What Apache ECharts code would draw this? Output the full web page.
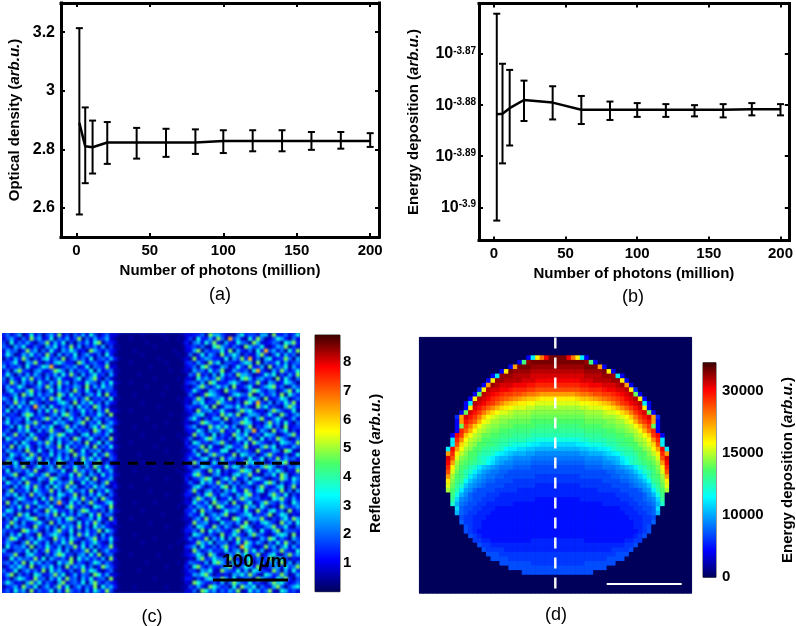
<!DOCTYPE html>
<html><head><meta charset="utf-8">
<style>html,body{margin:0;padding:0;background:#fff}
#c{position:absolute;left:0;top:0;width:796px;height:627px;filter:blur(0.6px);z-index:2}
#wrapC{position:absolute;left:2px;top:333px;width:298px;height:260px;overflow:hidden;background:#0040c8;z-index:1}
#h{width:298px;height:260px;filter:blur(1px)}</style>
<script src="https://cdn.jsdelivr.net/npm/echarts@6/dist/echarts.min.js"></script>
</head><body><div id="wrapC"><div id="h"></div></div><div id="c"></div>
<script>
// --- panel (a) / (b)
const photons=[2,6,11,21,41,61,81,100,120,140,160,180,200];
const xTicks=[0,50,100,150,200];
const odMean=[2.89,2.81,2.807,2.823,2.823,2.823,2.823,2.828,2.828,2.828,2.828,2.828,2.828];
const odHigh=[3.214,2.943,2.898,2.893,2.873,2.87,2.868,2.865,2.865,2.865,2.859,2.859,2.855];
const odLow=[2.577,2.684,2.717,2.75,2.768,2.774,2.784,2.787,2.793,2.793,2.798,2.802,2.808];
const odTicks=[2.6,2.8,3,3.2];
const edMean=[-3.8818,-3.8817,-3.8806,-3.879,-3.8795,-3.8809,-3.8809,-3.8809,-3.8809,-3.8809,-3.8809,-3.8808,-3.8808];
const edHigh=[-3.8621,-3.8719,-3.8731,-3.8752,-3.8763,-3.8782,-3.8793,-3.8796,-3.8798,-3.88,-3.8798,-3.8796,-3.8798];
const edLow=[-3.9026,-3.8914,-3.8879,-3.8831,-3.8828,-3.8837,-3.8829,-3.8823,-3.8823,-3.8822,-3.8824,-3.882,-3.882];
const edTicks=[-3.9,-3.89,-3.88,-3.87];
// --- panel (c): speckle typed by eye (grain is an estimate, not pixel exact); digit = index in reflectanceLevels
const reflectanceLevels=[0.3,0.5,0.9,1.3,1.7,2.1,2.7,3.6,4.8,6.2];
const reflectanceTicks=[1,2,3,4,5,6,7,8];
const cLeft=["3524613725146382415362741352","2463152846237153624815263462","4172536314582637141536278143","5316472253164725382614352614","2645138461527316475231864253","3751264735284162537146325173","1426385142673528146352714536","4357216583142675331862453261","6243517324769213546237154382","2516843156324875162543716245","3741526264153627384162573416","5163274835261473225714683152","4285163517426384615327541637","2634751246385172436518263745","1573426835147263518427316254","3246185726354186273514637182","6417352143628571346258143527","2538461753142367518264735163","4162735294617325461735286241","3715246316273846152473516382","5243168725314627853162437518","1634527143685261473528164253","4725316584132756314682537146","2361748253647125836241573864","3512647316258431672534186257","6248351742316587243167254361","1753426583147263518624731528","3426175236485172463518247163","5281647315264381725346182537","2643518427316254681372546143","4175362851437262518463172584","3562147638251473625184736215","1847253416372586143275368142","5326481257346182537416285374","2714536382146537128463517246","3468125743682154372851642735","6125374216538741263547182346","2753618435127364581273641582","4316257384261753846125374621","1582436175348261573462815374","3647152836415276348152637415","5214763251738462157384261853","2836145473261594273615842367","4153728316547231684253176428","3762514263185734261587342516","6341857125463817352641738254","1527346782153462785134627318","3485162357418263541726385142","2716453184362517463825174632","5342187463152684371526348175","4163725318246753162847351624","2587314627531846275314682537","3642158374261537482163574216","1735462815374261548372615348","6214537162483572614358271463","3458216743152687341562738145","2173645382716435281746352618","4526381746253174682531476253","1364752813647251836472513864","5237146352817463251384762135","3681524176235847136254187362","2415763284516372845163724518","4752316847253168245371684253","1346285371462583714625381746","3527461825347162853416275384"];
const cBand=["2100000100001000012","1000100000000100102","2000000010000000013","1100000000100000002","2000010000000001002","1000000100000000101","3100000000010000012","1000100000000100003","2000000001000000002","1100000000000010012","2000001000000000001","1000000000100000102","2100100000000000003","1000000010000100012","2000000000000000002","3000010000001000001","1100000000000000102","2000000100000000012","1000000000010000003","2100100000000000002","1000000000000010011","2000000010000000002","3100000000000100012","1000010000100000003","2000000000000000002","1100000100000000101","2000000000001000012","1000100000000000003","2100000000100000002","1000000000000100011","2000001000000000002","3000000000000000012","1100000100000010003","2000000000100000002","1000010000000000101","2100000000000000012","1000000010000100003","2000000000000000002","3100100000000000011","1000000001000000002","2000000000000100013","1100000000000000002","2000010000100000012","1000000000000000101","2100000100000000003","1000000000001000002","2000100000000000012","3000000001000000001","1100000000000100002","2000000000000000013","1000010000000000002","2100000000100000012","1000000100000000101","2000000000000010003","3100000000000000002","1000100000010000012","2000000000000000001","1100000010000000102","2000000000000100003","1000001000000000012","2100000000000000002","1000000000100000013","2000000000000000002","3100010000000100011","1000000000000000002"];
const cRight=["2335186642115734426618335247","4173362851946217385124763152","1562748316327541862235417683","3425117864253186447213658142","2681534472816325173946251738","5137264183575142268314726351","1824653327164839251672348516","4263185714432576181534726245","3517842265137428336182547163","1645273581264351794216385247","5382416173528664123757142638","2174635852341786256341827415","4526187233675214483165237641","1368524746182357214678351264","3742165318453126874255136827","5213876421367548126346281753","2486135572814236751823476135","1657243864325187394261537482","4325718126647352185734216863","3184562473215867423158642371","2567134285748136652473185246","5731426618253474168325741362","1248753362145876231584627315","4613285747361258143672518234","3275164582437165926418357142","2846317153286471352765124683","5124786342517638417253864125","1763425684135272864314276538","4358172216743581326857143264","2615843377126453184236518721","3471268542381764513684225137","5236714183652417247153836452","1854327465213386745126478213","4127653328476152436875132546","2563184714235876182364751328","3784215623167458321547286134","1346872157482361675213486275","5217463842635147423786152364","2674135378162543158423671482","4831562416473285267145382516","3152784265316478341268537142","1586247133725864452317684263","2743618546182357136854263175","4265371872346185627413185346","3618452137564273184267351824","5327146468213567243581476132","1462835723187426658314257386","2845613174536281426753184627","4176328526413875132568347215","3528174643268157417326815443","1764253182475316854213676182","5243816371628453126487253164","2386471545137286364152738415","4617325268341975213846157263","1852463437256184736125484327","3475186212648573481367215846","2168347554823167253481764132","5432617863175248146257383615","1784253346821576382145627458","4316572185437261764328516273","2657841323165748521763485126","3142675486271354186432758314","1875324261586437342158674235","4263187534172865715326841467","2518746253648127463582176342"];
// --- panel (d): half rows, centre to rim. a..z are even steps of the colour bar (a=0, z=1), A..Y the midpoints after the same lowercase letter.
// The picture is near-symmetric, so each half row is mirrored.
const depositionTicks=[0,10000,15000,30000];
const dHalfRows=["yywtqjd","yyyyyyXmd","XXXXXXyyysd","xxxxxxXXXXyqd","WWWWWWxxxxXXXjd","wwwwwWWWxxxxXXqd","vvvvvVVwwwWWWxXsd","uuuuuUUvvvVwwWWxqe","ssssSttTuuUUvVwWxnd","qqqqQrrRsStTuUvwWxqd","pppppPPqqQrRSTUvwWxjd","oooooOOpppPqQRSTUVWqd","NNNNNNooooOppPQRtUVWnd","nnnnnnNNNNoooOpPrtUVWse","MMMMMMnnnnnNNoopPRTUVsd","mmmmmMMMMMnnnNNoOPrtUnd","LLLLLLmmmmmMMnnNoOPRTvd","llllllLLLLmmmMMnnoOPrUwd","kkkkkKKllllLLmmMMNoOPSvj","IIIIjjJkkkKllLmmMMNopQuj","HHHHHiiIIjjJKllLLMMNoPswj","GGGGGhhHHHiIjJKllLMMNOqvs","ggggggGGGGhHHijkKlmMnNpuW","FFFFFFggggGGhHIJKlLmMnosw","ffffffFFFFgggGhHijKlmMNqv","fffffffffffFFggGhijKlmnpu","EEEEEfffffffFFggGhijlmMos","EEEEEEEEEEffffFFgGhiJLmNq","eeeeeEEEEEEEffffFgGhiKLnp","eeeeeeeeeEEEEEffffFGhjlMo","eeeeeeeeeeeeeEEEfffFGHkm","DDDDDeeeeeeeeeEEEffFgGIL","DDDDDDDDDDeeeeeeEEffFgHK","DDDDDDDDDDDDDDeeeEEffFI","DDDDDDDDDDDDDDDeeeEEfFH","DDDDDDDDDDDDDDDDeeeEEf","DDDDDDDDDDDDDDDDDeeEEF","DDDDDDDDDDDDDDDDDeeEf","DDDDDDDDDDDDDDDDDDeEf","DDDDDDDDDDDDDDDDDeEf","eeeeeeDDDDDDDDDeeEE","eeeeeeeeeeeeeeeEEf","eeeeeeeeeeeeEEEEf","EEEEEEEEEEEEEfff","EEEEEEEEEEEffff","EEEEEEfffffff","fffffffffff","ffffffff"];
const jet=['#00005a','#0000ff','#0080ff','#00ffff','#48ff68','#ffff00','#ff8000','#ff0000','#3c0000'];

const FF='"Liberation Sans",Arial,sans-serif';
const labelStyle={fontFamily:FF,fontWeight:'bold',fontSize:15,color:'#000'};
const chart=echarts.init(document.getElementById('c'));
const speckle=echarts.init(document.getElementById('h'));

function errBars(xIdx,yIdx,lo,hi){return {type:'custom',xAxisIndex:xIdx,yAxisIndex:yIdx,silent:true,
  data:photons.map((x,i)=>[x,lo[i],hi[i]]),encode:{x:0,y:[1,2]},
  renderItem(p,api){const x=api.value(0),a=api.coord([x,api.value(1)]),b=api.coord([x,api.value(2)]),w=3.5;
    const st={stroke:'#000',lineWidth:2};
    const l=(x1,y1,x2,y2)=>({type:'line',shape:{x1,y1,x2,y2},style:st});
    return {type:'group',children:[l(a[0],a[1],b[0],b[1]),l(a[0]-w,a[1],a[0]+w,a[1]),l(b[0]-w,b[1],b[0]+w,b[1])]};}};}
function meanLine(xIdx,yIdx,m){return {type:'line',xAxisIndex:xIdx,yAxisIndex:yIdx,silent:true,symbol:'none',
  data:photons.map((x,i)=>[x,m[i]]),lineStyle:{color:'#000',width:2.5},z:3};}
const boxLine={show:true,onZero:false,lineStyle:{color:'#000',width:3,cap:'square'}};
const yTitle=(base)=>`{n|${base} (}{i|arb.u.}{n|)}`;
const titleRich={n:{fontFamily:FF,fontWeight:'bold',fontSize:15,color:'#000'},i:{fontFamily:FF,fontWeight:'bold',fontStyle:'italic',fontSize:15,color:'#000'}};

function xPair(g,min,max){return [
 {type:'value',gridIndex:g,position:'bottom',min,max,axisLine:boxLine,splitLine:{show:false},
  axisTick:{customValues:xTicks,inside:true,length:4,lineStyle:{color:'#000',width:2}},
  axisLabel:{...labelStyle,customValues:xTicks,margin:6},
  name:'Number of photons (million)',nameLocation:'middle',nameGap:26,nameTextStyle:{fontFamily:FF,fontWeight:'bold',fontSize:15,color:'#000'}},
 {type:'value',gridIndex:g,position:'top',min,max,axisLine:boxLine,splitLine:{show:false},
  axisTick:{customValues:xTicks,inside:true,length:4,lineStyle:{color:'#000',width:2}},axisLabel:{show:false}}];}
function yPair(g,min,max,ticks,fmt,title,gap,rich,margin){return [
 {type:'value',gridIndex:g,position:'left',min,max,axisLine:boxLine,splitLine:{show:false},
  axisTick:{customValues:ticks,inside:true,length:4,lineStyle:{color:'#000',width:2}},
  axisLabel:{...labelStyle,fontSize:16,customValues:ticks,margin,formatter:fmt,rich},
  name:title,nameLocation:'middle',nameGap:gap,nameTextStyle:{rich:titleRich}},
 {type:'value',gridIndex:g,position:'right',min,max,axisLine:boxLine,splitLine:{show:false},
  axisTick:{customValues:ticks,inside:true,length:4,lineStyle:{color:'#000',width:2}},axisLabel:{show:false}}];}

// heatmap data
const cRows=cLeft.map((l,i)=>l+cBand[i]+cRight[i]);
const cCols=cRows[0].length;
const cData=[];cRows.forEach((r,y)=>{for(let x=0;x<r.length;x++)cData.push([x,y,reflectanceLevels[+r[x]]]);});
const dCols=61,dGridRows=56,dFirstRow=4;
const dTop=depositionTicks.length-1+0.46;
const charVal=ch=>{const c=ch.charCodeAt(0);return (c>=97?(c-97)*2:(c-65)*2+1)/50*dTop;};
const dData=[];
for(let y=0;y<dGridRows;y++){const half=dHalfRows[y-dFirstRow]||'';
  for(let x=0;x<dCols;x++){const d=x<31?30-x:x-31;dData.push([x,y,d<half.length?charVal(half[d]):0]);}}
const cat=n=>Array.from({length:n},(_,i)=>i);
const hiddenCat=(g,n,inv)=>({type:'category',gridIndex:g,data:cat(n),show:false,inverse:!!inv});
const thin={show:false};
function barX(g){return {type:'category',gridIndex:g,data:['c'],show:false};}
function barY(g,max,ticks,fmt,title,gap,margin){return {type:'value',gridIndex:g,position:'right',min:0,max,splitLine:thin,axisLine:{show:false},
  axisTick:{customValues:ticks,inside:false,length:3,lineStyle:{color:'#000',width:2}},
  axisLabel:{...labelStyle,fontSize:15,customValues:ticks,margin,formatter:fmt},
  name:title,nameLocation:'middle',nameGap:gap,nameRotate:90,nameTextStyle:{rich:titleRich}};}
const jetGrad=new echarts.graphic.LinearGradient(0,1,0,0,jet.map((c,i)=>({offset:i/(jet.length-1),color:c})));

// panel (c) speckle sits on its own softly blurred canvas, like the JPEG-softened original
speckle.setOption({animation:false,backgroundColor:'transparent',grid:{left:0,top:0,right:0,bottom:0},
 xAxis:hiddenCat(0,cCols),yAxis:hiddenCat(0,cRows.length,true),
 visualMap:{type:'continuous',show:false,dimension:2,min:0.01,max:8.95,inRange:{color:jet}},
 series:[{type:'heatmap',data:cData,silent:true,progressive:0}]});

const caption=(t,x,y)=>({type:'text',x,y,z:20,style:{text:t,font:'18px '+FF,fill:'#000',align:'center',verticalAlign:'middle'}});
chart.setOption({animation:false,backgroundColor:'transparent',
 grid:[{left:61,top:3,width:318,height:234},{left:479,top:3.5,width:313,height:237},
  {left:419.3,top:337.3,width:272.4,height:256,show:true,borderColor:'#8a94c0',borderWidth:1,backgroundColor:'#00005a'},
  {left:315,top:335,width:25,height:256.7,show:true,borderColor:'#333',borderWidth:1},{left:703,top:362.7,width:21,height:214.6,show:true,borderColor:'#333',borderWidth:1}],
 xAxis:[...xPair(0,-10.5,206),...xPair(1,-10.4,205.8),hiddenCat(2,dCols),barX(3),barX(4)],
 yAxis:[...yPair(0,2.5,3.3,odTicks,v=>String(v),yTitle('Optical density'),39,undefined,6),
  ...yPair(1,-3.9065,-3.8601,edTicks,v=>`{b|10}{s|${v}}`,yTitle('Energy deposition'),58,
    {b:{fontFamily:FF,fontWeight:'bold',fontSize:16,color:'#000',verticalAlign:'bottom',lineHeight:16},s:{fontFamily:FF,fontWeight:'bold',fontSize:10,color:'#000',verticalAlign:'top',lineHeight:16}},3),
  hiddenCat(2,dGridRows,true),
  barY(3,8.95,reflectanceTicks,v=>String(v),yTitle('Reflectance'),28,3),
  barY(4,dTop,depositionTicks.map((_,i)=>i),v=>String(depositionTicks[v]),yTitle('Energy deposition'),64,6)],
 visualMap:[{type:'continuous',show:false,seriesIndex:4,dimension:2,min:0,max:dTop,inRange:{color:jet}}],
 series:[
  errBars(0,0,odLow,odHigh),meanLine(0,0,odMean),
  errBars(2,2,edLow,edHigh),meanLine(2,2,edMean),
  {type:'heatmap',xAxisIndex:4,yAxisIndex:4,data:dData,silent:true,progressive:0},
  {type:'bar',xAxisIndex:5,yAxisIndex:5,data:[8.95],barWidth:'100%',silent:true,itemStyle:{color:jetGrad}},
  {type:'bar',xAxisIndex:6,yAxisIndex:6,data:[dTop],barWidth:'100%',silent:true,itemStyle:{color:jetGrad}}],
 graphic:[
  caption('(a)',220,295),caption('(b)',633,297),caption('(c)',152,617),caption('(d)',556,615),
  {type:'line',z:20,shape:{x1:2,y1:463.3,x2:300,y2:463.3},style:{stroke:'#000',lineWidth:3,lineDash:[10,8]}},
  {type:'line',z:20,shape:{x1:213,y1:580,x2:288,y2:580},style:{stroke:'#000',lineWidth:3}},
  {type:'text',z:20,x:222,y:552,style:{rich:{a:{font:'bold 19px '+FF,fill:'#000'},m:{font:'bold italic 19px '+FF,fill:'#000'}},text:'{a|100 }{m|μ}{a|m}',fill:'#000'}},
  {type:'line',z:20,shape:{x1:555.3,y1:337.5,x2:555.3,y2:593},style:{stroke:'#fff',lineWidth:2.5,lineDash:[11,9],opacity:.95}},
  {type:'line',z:20,shape:{x1:606.7,y1:584,x2:681.7,y2:584},style:{stroke:'#fff',lineWidth:2}}
 ]});
</script></body></html>
